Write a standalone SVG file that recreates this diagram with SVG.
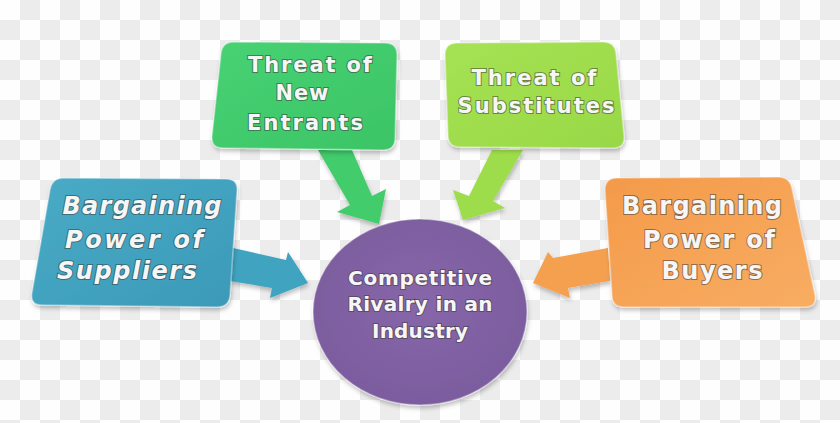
<svg xmlns="http://www.w3.org/2000/svg" width="840" height="423" viewBox="0 0 840 423">
<defs>
<pattern id="checker" patternUnits="userSpaceOnUse" width="40" height="40">
<rect width="40" height="40" fill="#fefefe"/>
<rect x="20" y="0" width="20" height="20" fill="#ececec"/>
<rect x="0" y="20" width="20" height="20" fill="#ececec"/>
</pattern>
<linearGradient id="gBlue" x1="0" y1="0" x2="1" y2="1">
<stop offset="0" stop-color="#49abc6"/><stop offset="1" stop-color="#3b9ab8"/>
</linearGradient>
<linearGradient id="gGreen" x1="0" y1="0" x2="1" y2="1">
<stop offset="0" stop-color="#47d274"/><stop offset="1" stop-color="#3cc466"/>
</linearGradient>
<linearGradient id="gLime" x1="0" y1="0" x2="1" y2="1">
<stop offset="0" stop-color="#a6e254"/><stop offset="1" stop-color="#98d846"/>
</linearGradient>
<linearGradient id="gOrange" x1="0" y1="0" x2="1" y2="1">
<stop offset="0" stop-color="#f49a4a"/><stop offset="1" stop-color="#f8ad62"/>
</linearGradient>
<radialGradient id="gPurple" cx="0.5" cy="0.45" r="0.6">
<stop offset="0" stop-color="#8767a9"/><stop offset="1" stop-color="#7a5b9d"/>
</radialGradient>
<filter id="shadow" x="-10%" y="-10%" width="130%" height="130%">
<feDropShadow dx="1" dy="3" stdDeviation="2" flood-color="#000" flood-opacity="0.25"/>
</filter>
</defs>
<style>
.lbl{font-family:"DejaVu Sans","Liberation Sans",sans-serif;font-weight:700;fill:#f6f6f6;stroke:#3a3a3a;stroke-opacity:0.55;stroke-width:2;paint-order:stroke;text-anchor:middle}
.big{font-size:24px}
.mid{font-size:21px}
.sm{font-size:20px}
.it{font-style:italic}
.edge{stroke:#ffffff;stroke-opacity:0.35;stroke-width:1.5}
</style>
<rect width="840" height="423" fill="url(#checker)"/>
<g id="connectors" filter="url(#shadow)">
<path id="arrow-suppliers" d="M233,248 L286,260 L288,252 L308,283 L270,298 L272,288 L230,281 Z" fill="#3fa3bf"/>
<path id="arrow-entrants" d="M318,150 L352,150 L372,196 L386,189 L379,224 L337,212 L350,205 Z" fill="#42cc6c"/>
<path id="arrow-substitutes" d="M492,150 L523,150 L493,201 L505,208 L463,220 L453,190 L469,196 Z" fill="#9ddc4c"/>
<path id="arrow-buyers" d="M608,248 L553,258 L548,252 L533,283 L570,298 L568,288 L610,281 Z" fill="#f5a04f"/>
</g>
<g id="suppliers">
<path d="M64,178 L226,179 Q238,179 237,191 L230,295 Q229,307 217,307 L42,305 Q30,305 32,293 L50,190 Q52,178 64,178 Z" fill="url(#gBlue)" class="edge" filter="url(#shadow)"/>
<text class="lbl big it" x="142" y="214" textLength="159" lengthAdjust="spacing">Bargaining</text>
<text class="lbl big it" x="134" y="248" textLength="138" lengthAdjust="spacing">Power of</text>
<text class="lbl big it" x="127" y="279" textLength="140" lengthAdjust="spacing">Suppliers</text>
</g>
<g id="entrants">
<path d="M234,42 L385,43 Q397,43 397,55 L395,138 Q395,150 383,150 L223,148 Q211,148 212,136 L221,54 Q222,42 234,42 Z" fill="url(#gGreen)" class="edge" filter="url(#shadow)"/>
<text class="lbl mid" x="310" y="72" textLength="124" lengthAdjust="spacing">Threat of</text>
<text class="lbl mid" x="302" y="100" textLength="53" lengthAdjust="spacing">New</text>
<text class="lbl mid" x="305" y="130" textLength="116" lengthAdjust="spacing">Entrants</text>
</g>
<g id="substitutes">
<path d="M457,43 L603,42 Q615,42 616,54 L624,136 Q625,148 613,148 L460,147 Q448,147 448,135 L445,55 Q445,43 457,43 Z" fill="url(#gLime)" class="edge" filter="url(#shadow)"/>
<text class="lbl mid" x="534" y="85" textLength="125" lengthAdjust="spacing">Threat of</text>
<text class="lbl mid" x="536" y="113" textLength="157" lengthAdjust="spacing">Substitutes</text>
</g>
<g id="buyers">
<path d="M617,178 L778,177 Q790,177 792,189 L815,295 Q817,307 805,307 L624,307 Q612,307 612,295 L605,190 Q605,178 617,178 Z" fill="url(#gOrange)" class="edge" filter="url(#shadow)"/>
<text class="lbl big" x="702" y="214" textLength="160" lengthAdjust="spacing">Bargaining</text>
<text class="lbl big" x="709" y="248" textLength="132" lengthAdjust="spacing">Power of</text>
<text class="lbl big" x="712" y="279" textLength="101" lengthAdjust="spacing">Buyers</text>
</g>
<g id="rivalry">
<ellipse cx="420" cy="312" rx="107" ry="93" fill="url(#gPurple)" class="edge" filter="url(#shadow)"/>
<text class="lbl sm" x="420" y="285" textLength="144" lengthAdjust="spacing">Competitive</text>
<text class="lbl sm" x="420" y="311" textLength="145" lengthAdjust="spacing">Rivalry in an</text>
<text class="lbl sm" x="420" y="338" textLength="96" lengthAdjust="spacing">Industry</text>
</g>
</svg>
